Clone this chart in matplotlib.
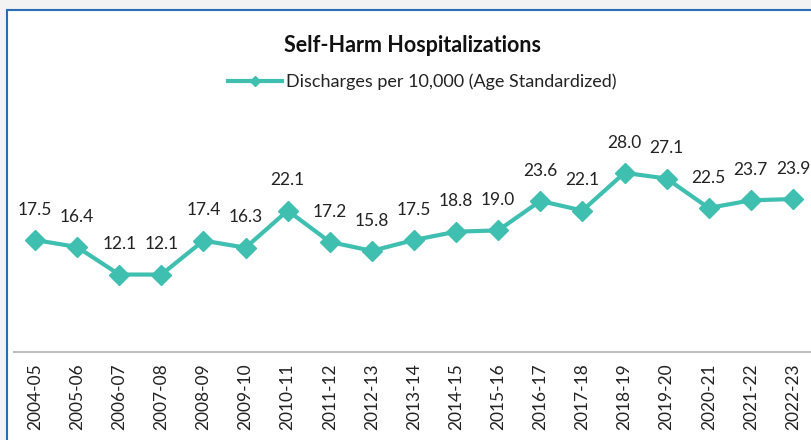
import matplotlib.pyplot as plt
from matplotlib.patches import Rectangle

# -----------------------------
# Data
# -----------------------------
years = ["2004-05", "2005-06", "2006-07", "2007-08", "2008-09", "2009-10",
         "2010-11", "2011-12", "2012-13", "2013-14", "2014-15", "2015-16",
         "2016-17", "2017-18", "2018-19", "2019-20", "2020-21", "2021-22",
         "2022-23"]
rates = [17.5, 16.4, 12.1, 12.1, 17.4, 16.3, 22.1, 17.2, 15.8, 17.5,
         18.8, 19.0, 23.6, 22.1, 28.0, 27.1, 22.5, 23.7, 23.9]

title = "Self-Harm Hospitalizations"
series_name = "Discharges per 10,000 (Age Standardized)"

# -----------------------------
# Figure
# -----------------------------
plt.rcParams["font.family"] = ["Lato", "DejaVu Sans"]

W, H = 811, 440
fig = plt.figure(figsize=(W / 100, H / 100), dpi=100)
fig.patch.set_facecolor("#f3f3f3")

# white chart area with blue frame (cropped on right/bottom)
fig.patches.append(Rectangle((7 / W, -0.05), 1.0, (H - 10) / H + 0.05,
                             transform=fig.transFigure, facecolor="white",
                             edgecolor="#2a6db5", linewidth=1.5, zorder=-5))

ax = fig.add_axes([14 / W, 88 / H, 800 / W, 256 / H])
ax.set_facecolor("none")

teal = "#3fbfb0"
x = list(range(len(years)))
ax.plot(x, rates, color=teal, linewidth=3, marker="D", markersize=10,
        label=series_name, clip_on=False)

for xi, v in zip(x, rates):
    ax.annotate(f"{v:.1f}", (xi, v), xytext=(0, 16), textcoords="offset points",
                ha="center", va="bottom", fontsize=12.5, color="#222222")

ax.set_xlim(-0.5, 18.5)
ax.set_ylim(0, 40)
ax.set_xticks(x)
ax.set_xticklabels(years, rotation=90, fontsize=12.5, color="#222222")
ax.tick_params(axis="x", length=0, pad=8)
ax.set_yticks([])

for side in ["top", "right", "left"]:
    ax.spines[side].set_visible(False)
ax.spines["bottom"].set_color("#bfbfbf")
ax.spines["bottom"].set_linewidth(1.5)

fig.text(413 / W, 1 - 45 / H, title, ha="center", va="center",
         fontsize=15.5, fontweight="bold", color="#111111")

leg = fig.legend(loc="center", bbox_to_anchor=(422 / W, 1 - 82 / H),
                 frameon=False, fontsize=13, handlelength=3.0,
                 handletextpad=0.2, markerscale=0.5)
for t in leg.get_texts():
    t.set_color("#222222")

fig.savefig("out.png", dpi=100, facecolor=fig.get_facecolor())
